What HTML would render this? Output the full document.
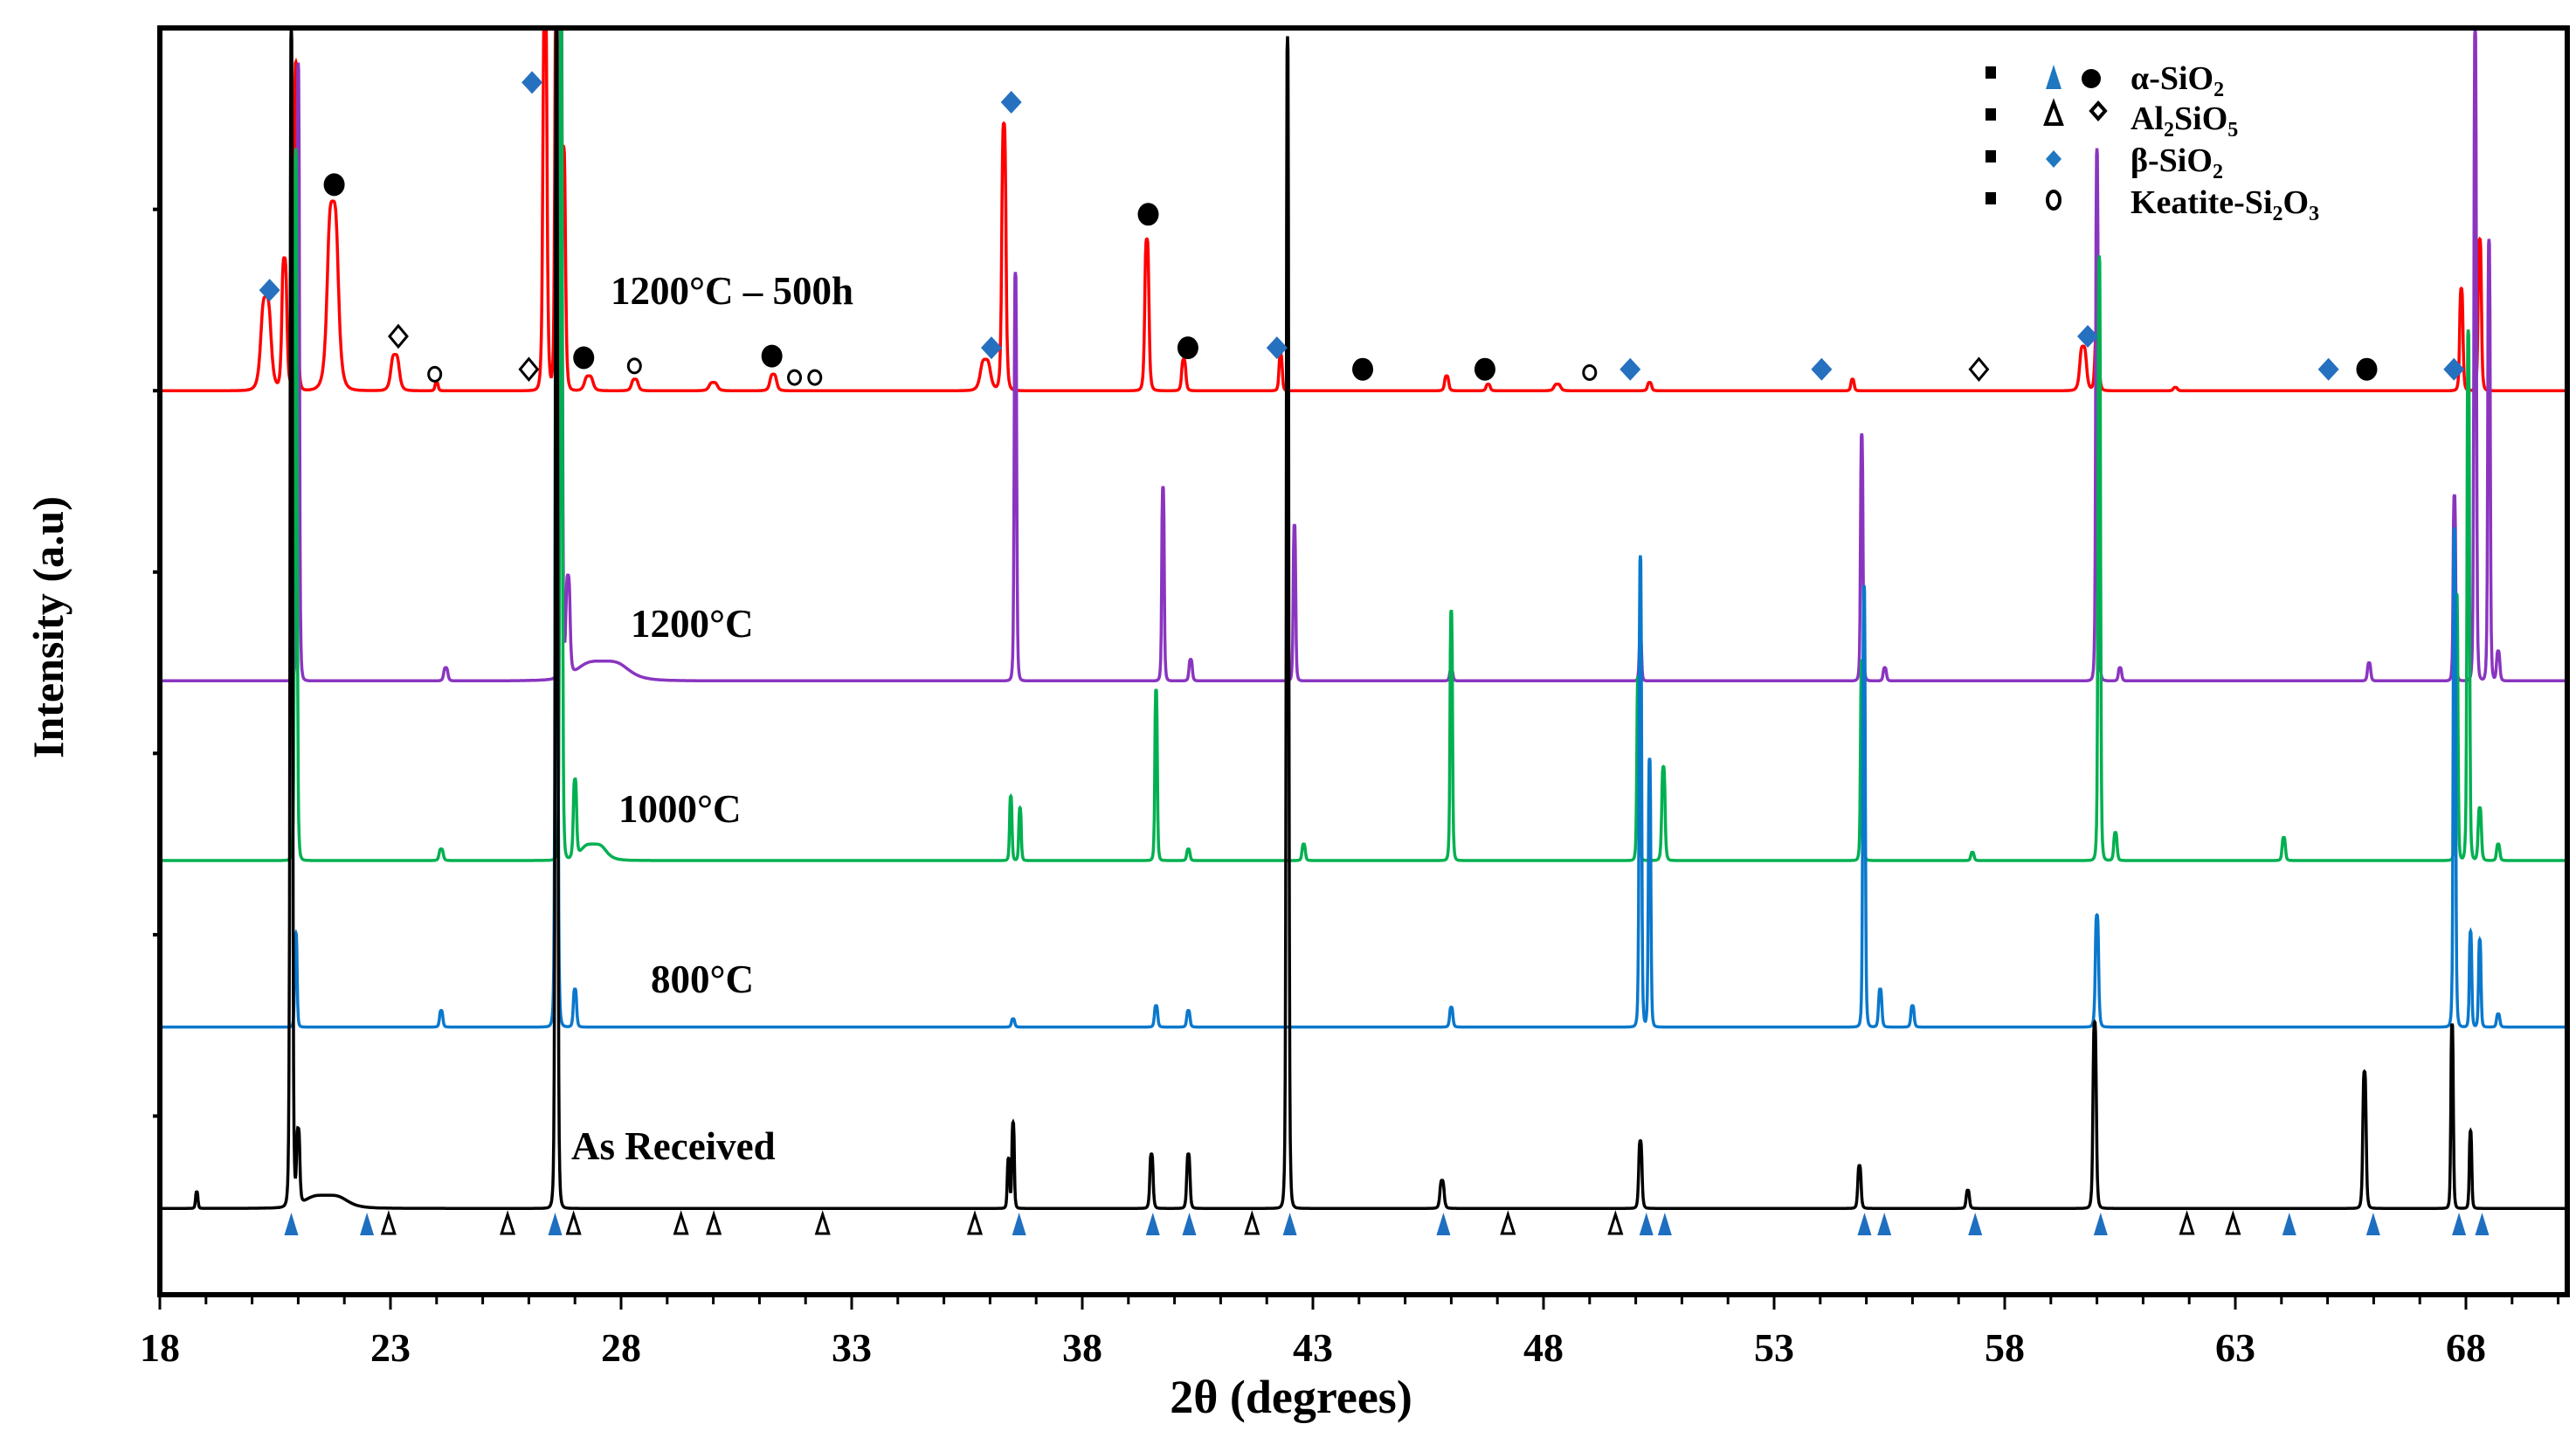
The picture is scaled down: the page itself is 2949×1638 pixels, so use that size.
<!DOCTYPE html>
<html><head><meta charset="utf-8">
<style>
html,body{margin:0;padding:0;background:#fff;}
svg{display:block;}
text{font-family:"Liberation Serif",serif;font-weight:bold;fill:#000;}
</style></head>
<body>
<svg id="chart" width="2949" height="1638" viewBox="0 0 2949 1638" xmlns="http://www.w3.org/2000/svg">
<defs><clipPath id="plotclip"><rect x="183" y="32" width="2756" height="1450"/></clipPath></defs>
<rect x="0" y="0" width="2949" height="1638" fill="#fff"/>
<g id="series" clip-path="url(#plotclip)"></g>
<g id="markers"></g>
<rect x="183" y="32" width="2756" height="1450" fill="none" stroke="#000" stroke-width="6"/>
<g id="axes"></g>
<text x="1478" y="1617" font-size="54" text-anchor="middle">2θ (degrees)</text>
<text transform="translate(72,718) rotate(-90)" font-size="50" text-anchor="middle">Intensity (a.u)</text>
<text x="699" y="348" font-size="45">1200°C – 500h</text>
<text x="722" y="729" font-size="45">1200°C</text>
<text x="708" y="941" font-size="45">1000°C</text>
<text x="745" y="1136" font-size="45">800°C</text>
<text x="654" y="1327" font-size="45">As Received</text>
<g>
 <rect x="2273" y="76" width="12" height="14"/><rect x="2273" y="124" width="12" height="14"/><rect x="2273" y="172" width="12" height="14"/><rect x="2273" y="220" width="12" height="14"/>
 <polygon points="2351,74 2342,102 2360,102" fill="#1f77c0"/>
 <circle cx="2394" cy="90" r="11" fill="#000"/>
 <polygon points="2351,118 2342,142 2360,142" fill="none" stroke="#000" stroke-width="4"/>
 <polygon points="2402,118 2410,127 2402,136 2394,127" fill="none" stroke="#000" stroke-width="4"/>
 <polygon points="2351,172 2360,182 2351,192 2342,182" fill="#1f77c0"/>
 <ellipse cx="2351" cy="229" rx="7" ry="10" fill="none" stroke="#000" stroke-width="4"/>
 <text x="2439" y="102" font-size="38">α-SiO<tspan font-size="24" dy="8">2</tspan></text>
 <text x="2439" y="148" font-size="38">Al<tspan font-size="24" dy="8">2</tspan><tspan dy="-8">SiO</tspan><tspan font-size="24" dy="8">5</tspan></text>
 <text x="2439" y="196" font-size="38">β-SiO<tspan font-size="24" dy="8">2</tspan></text>
 <text x="2439" y="244" font-size="38">Keatite-Si<tspan font-size="24" dy="8">2</tspan><tspan dy="-8">O</tspan><tspan font-size="24" dy="8">3</tspan></text>
</g>
</svg>
<script>
// x ticks
const xTicks = [18,23,28,33,38,43,48,53,58,63,68];
// series peak data: centers (deg), heights (a.u., display units), widths (deg)
const redC = [20.3,20.7,20.95,21.75,23.1,24.0,26.35,26.6,26.75,27.3,28.3,30.0,31.3,35.9,36.3,39.4,40.2,42.3,45.9,46.8,48.3,50.3,54.7,59.7,60.0,61.7,67.9,68.3];
const redH = [57,80,199,115,22,5,240,260,147,9,7,5,10,19,162,92,19,22,9,4,4,5,7,27,37,2,62,92];
const redW = [0.12,0.06,0.04,0.13,0.1,0.04,0.05,0.04,0.05,0.1,0.08,0.1,0.08,0.12,0.05,0.05,0.05,0.04,0.05,0.05,0.08,0.05,0.04,0.08,0.05,0.05,0.04,0.04];
const purC = [21.0,24.2,26.7,26.85,27.6,36.55,39.75,40.35,42.6,46.0,50.1,54.9,55.4,60.0,60.5,65.9,67.75,68.2,68.5,68.7];
const purH = [375,8,420,60,12,248,118,13,95,7,28,150,8,323,8,11,113,396,268,18];
const purW = [0.03,0.05,0.03,0.05,0.6,0.03,0.03,0.04,0.03,0.04,0.03,0.03,0.04,0.03,0.04,0.04,0.03,0.03,0.03,0.04];
const grnC = [20.95,24.1,26.7,27.0,27.4,36.45,36.65,39.6,40.3,42.8,46.0,50.05,50.6,54.9,57.3,60.05,60.4,64.05,67.8,68.05,68.3,68.7];
const grnH = [432,7,520,47,10,39,32,104,7,10,152,112,57,122,5,367,17,14,162,322,32,10];
const grnW = [0.03,0.05,0.03,0.04,0.3,0.03,0.03,0.03,0.04,0.04,0.03,0.03,0.04,0.03,0.04,0.03,0.04,0.04,0.03,0.03,0.04,0.04];
const bluC = [20.95,24.1,26.6,27.0,36.5,39.6,40.3,46.0,50.1,50.3,54.95,55.3,56.0,60.0,67.75,68.1,68.3,68.7];
const bluH = [57,10,620,23,5,13,10,12,286,163,268,23,13,68,303,58,53,8];
const bluW = [0.03,0.04,0.03,0.04,0.04,0.04,0.04,0.04,0.03,0.03,0.03,0.04,0.04,0.04,0.03,0.03,0.03,0.04];
const blkC = [18.8,20.85,21.0,21.6,26.6,36.4,36.5,39.5,40.3,42.45,45.8,50.1,54.85,57.2,59.95,65.8,67.7,68.1];
const blkH = [10,716,45,8,716,30,52,33,33,711,17,41,26,11,113,83,112,47];
const blkW = [0.03,0.03,0.04,0.5,0.03,0.03,0.03,0.04,0.04,0.03,0.05,0.04,0.04,0.04,0.04,0.04,0.03,0.03];
// markers (deg, height above red baseline / on triangle row)
const blueDiamondX = [20.38,26.07,36.46,36.03,42.22,49.88,54.03,59.8,65.02,67.74];
const blueDiamondH = [61,187,175,26,26,13,13,33,13,13];
const blackCircleX = [21.78,27.19,31.27,39.43,40.29,44.08,46.73,65.85];
const blackCircleH = [125,20,21,107,26,13,13,13];
const openDiamondX = [23.17,26.0,57.44];
const openDiamondH = [33,13,13];
const openCircleX = [23.96,28.29,31.76,32.2,49.0];
const openCircleH = [10,15,8,8,11];
const blueTriX = [20.85,22.49,26.57,36.63,39.53,40.32,42.5,45.83,50.23,50.63,54.96,55.39,57.36,60.08,64.17,65.99,67.85,68.35];
const openTriX = [22.96,25.54,26.97,29.3,30.01,32.37,35.67,41.68,47.23,49.56,61.95,62.95];

const NS='http://www.w3.org/2000/svg';
const K=1.887;
function xs(d){return 183+(d-18)*52.8;}
function ys(base,h){return base*K - h*K;}
const series=[
 {name:'series-1200c-500h',c:redC,h:redH,w:redW,base:237,col:'#ff0000'},
 {name:'series-1200c',c:purC,h:purH,w:purW,base:413,col:'#8a35c0'},
 {name:'series-1000c',c:grnC,h:grnH,w:grnW,base:522,col:'#00b050'},
 {name:'series-800c',c:bluC,h:bluH,w:bluW,base:623,col:'#0a78cc'},
 {name:'series-as-received',c:blkC,h:blkH,w:blkW,base:733,col:'#000000'}
];
const g=document.getElementById('series');
series.forEach(s=>{
  let d='';
  for(let t=18;t<=70.3;t+=0.01){
    let v=0;
    for(let i=0;i<s.c.length;i++){const z=(t-s.c[i])/s.w[i];v+=s.h[i]/(1+z*z*z*z);}
    const px=xs(t), py=ys(s.base,v);
    d+=(d?'L':'M')+px.toFixed(1)+','+py.toFixed(1);
  }
  const p=document.createElementNS(NS,'path');
  p.setAttribute('d',d);p.setAttribute('fill','none');p.setAttribute('stroke',s.col);p.setAttribute('stroke-width','3.5');
  
  
  g.appendChild(p);
});
const mg=document.getElementById('markers');
function add(tag,attrs,name){const e=document.createElementNS(NS,tag);for(const k in attrs)e.setAttribute(k,attrs[k]);
  
  
  mg.appendChild(e);}
const RB=237;
blueDiamondX.forEach((d,i)=>{const x=xs(d),y=ys(RB,blueDiamondH[i]);add('polygon',{points:`${x},${y-13} ${x+12},${y} ${x},${y+13} ${x-12},${y}`,fill:'#2670c0'},'beta-sio2-marker');});
blackCircleX.forEach((d,i)=>{const x=xs(d),y=ys(RB,blackCircleH[i]);add('ellipse',{cx:x,cy:y,rx:12,ry:13,fill:'#000'},'alpha-sio2-circle-marker');});
openDiamondX.forEach((d,i)=>{const x=xs(d),y=ys(RB,openDiamondH[i]);add('polygon',{points:`${x},${y-12} ${x+10},${y} ${x},${y+12} ${x-10},${y}`,fill:'#fff',stroke:'#000','stroke-width':3},'al2sio5-diamond-marker');});
openCircleX.forEach((d,i)=>{const x=xs(d),y=ys(RB,openCircleH[i]);add('ellipse',{cx:x,cy:y,rx:7,ry:8,fill:'#fff',stroke:'#000','stroke-width':3},'keatite-marker');});
const TRY=743*K;
blueTriX.forEach(d=>{const x=xs(d);add('polygon',{points:`${x},${TRY-14} ${x-8},${TRY+12} ${x+8},${TRY+12}`,fill:'#1f6fc0'},'alpha-sio2-triangle-marker');});
openTriX.forEach(d=>{const x=xs(d);add('polygon',{points:`${x},${TRY-12} ${x-7},${TRY+10} ${x+7},${TRY+10}`,fill:'#fff',stroke:'#000','stroke-width':3},'al2sio5-triangle-marker');});
// axes ticks
const ag=document.getElementById('axes');
for(let t=18;t<=70;t++){
  const l=document.createElementNS(NS,'line');const x=xs(t);const major=xTicks.includes(t);
  l.setAttribute('x1',x);l.setAttribute('x2',x);l.setAttribute('y1',1482);l.setAttribute('y2',1482+(major?17:11));
  l.setAttribute('stroke','#000');l.setAttribute('stroke-width','3');
  
  
  ag.appendChild(l);
}
xTicks.forEach(t=>{
  const tx=document.createElementNS(NS,'text');tx.setAttribute('x',xs(t));tx.setAttribute('y',1558);
  tx.setAttribute('font-size','46');tx.setAttribute('text-anchor','middle');tx.textContent=t;
  
  
  ag.appendChild(tx);
});
[127,237,347,457,567,677].forEach(v=>{
  const l=document.createElementNS(NS,'line');const y=v*K;
  l.setAttribute('x1',175);l.setAttribute('x2',183);l.setAttribute('y1',y);l.setAttribute('y2',y);
  l.setAttribute('stroke','#000');l.setAttribute('stroke-width','4');
  
  
  ag.appendChild(l);
});
</script>
</body></html>
